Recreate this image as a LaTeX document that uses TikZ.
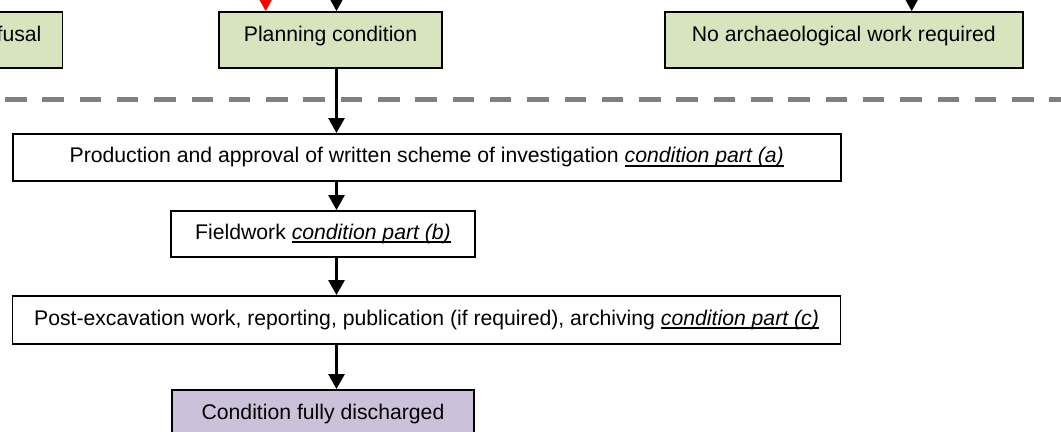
\documentclass[tikz,border=0pt]{standalone}
\usepackage{fontspec}
\setmainfont{Liberation Sans}
\usepackage{tikz}
\usetikzlibrary{arrows.meta, calc}

\definecolor{outcomegreen}{HTML}{D7E4BD}
\definecolor{dischargelilac}{HTML}{CCC1DA}
\definecolor{dividergrey}{HTML}{808080}

\newcommand{\partref}[1]{\setbox0\hbox{\textit{#1}}\rlap{\rule[-1.8pt]{\wd0}{0.9pt}}\box0}

\begin{document}
\begin{tikzpicture}[x = 0.5pt, y = -0.5pt,
	stage/.style = {draw, line width = 0.9pt, inner sep = 0pt, minimum height = 23.5pt,
		font = \fontsize{10.6}{12.5}\selectfont},
	outcome/.style = {stage, fill = outcomegreen, minimum height = 28pt,
		text height = 15pt, text depth = 13pt},
	flow/.style = {line width = 1.25pt, -{Triangle[length = 7.5pt, width = 8pt]}}]
\useasboundingbox (0, 0) rectangle (1061, 432);
\clip (0, 0) rectangle (1061, 432);

\draw[dividergrey, line width = 2.4pt, dash pattern = on 10.75pt off 7.9pt]
	(5, 99.5) -- (1061, 99.5);

\node[outcome, minimum width = 57pt] (refusal) at (5.5, 40) {Refusal};
\node[outcome, minimum width = 111.5pt] (plan) at (330.5, 40) {Planning condition};
\node[outcome, minimum width = 178.8pt] (noarch) at (843.8, 40) {No archaeological work required};

\node[stage, minimum width = 414pt] (wsi) at (426.7, 157.5)
	{Production and approval of written scheme of investigation \partref{condition part (a)}};
\node[stage, minimum width = 152pt, minimum height = 23pt] (field) at (323, 234)
	{Fieldwork \partref{condition part (b)}};
\node[stage, minimum width = 414pt, minimum height = 24pt] (post) at (426.5, 320)
	{Post-excavation work, reporting, publication (if required), archiving \partref{condition part (c)}};
\node[outcome, fill = dischargelilac, minimum width = 151pt] (done) at (323, 418)
	{Condition fully discharged};

\coordinate (spine) at (336.5, 0);
\coordinate (fromred) at (265.7, -40);
\coordinate (fromplan) at (336.5, -40);
\coordinate (fromnoarch) at (911.7, -40);

\draw[flow, red] (fromred) -- (fromred |- plan.north);
\draw[flow] (fromplan) -- (fromplan |- plan.north);
\draw[flow] (fromnoarch) -- (fromnoarch |- noarch.north);

\draw[flow] (plan.south -| spine) -- (wsi.north -| spine);
\draw[flow] (wsi.south -| spine) -- (field.north -| spine);
\draw[flow] (field.south -| spine) -- (post.north -| spine);
\draw[flow] (post.south -| spine) -- (done.north -| spine);
\end{tikzpicture}
\end{document}
